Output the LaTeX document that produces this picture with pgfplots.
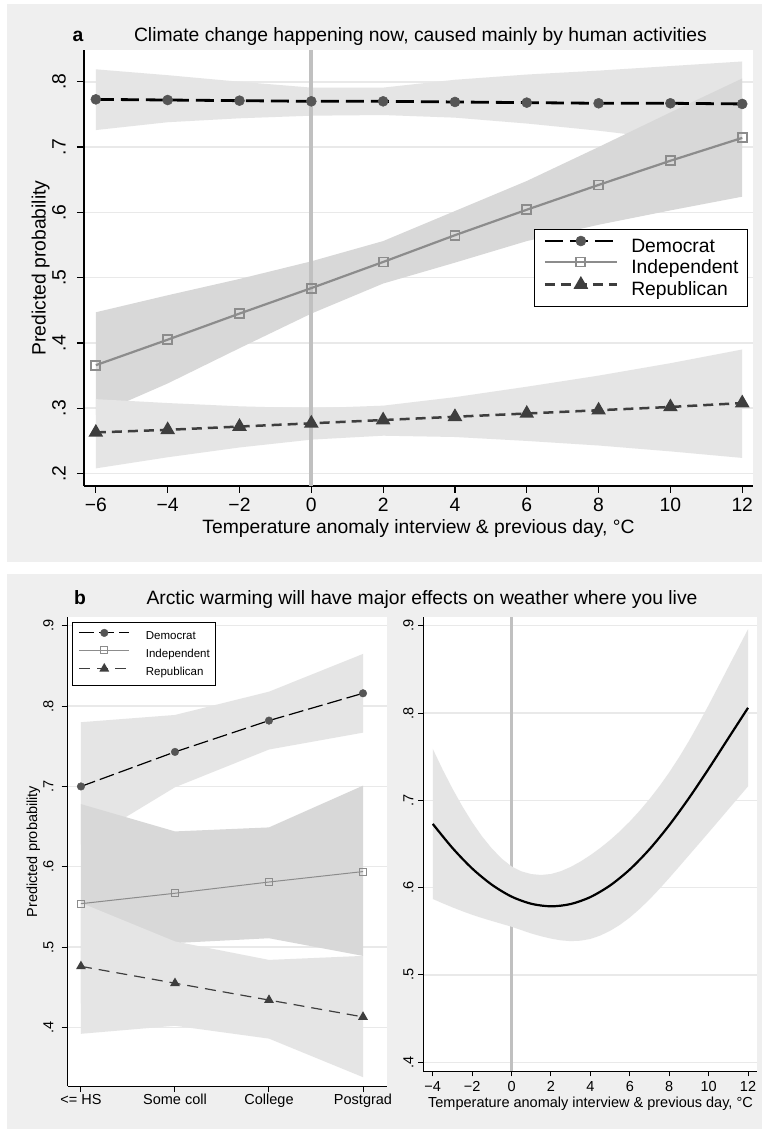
\documentclass[border=0pt]{standalone}
\usepackage{fontspec}
\setmainfont{Liberation Sans}
\usepackage{pgfplots}
\pgfplotsset{compat=1.18}
\definecolor{panelbg}{RGB}{239,239,239}
\definecolor{gridc}{RGB}{233,233,233}
\definecolor{bandL}{RGB}{229,229,229}
\definecolor{bandD}{RGB}{216,216,216}
\definecolor{zline}{RGB}{192,192,192}
\definecolor{demmark}{RGB}{85,85,85}
\definecolor{indc}{RGB}{140,140,140}
\definecolor{repc}{RGB}{62,62,62}
\newcommand\fa{\fontsize{19.3bp}{23bp}\selectfont}
\newcommand\fb{\fontsize{14.5bp}{17bp}\selectfont}
\newcommand\fl{\fontsize{11.5bp}{13bp}\selectfont}
\begin{document}
\begin{tikzpicture}
\useasboundingbox (0,0) rectangle (762bp,1129bp);
\fill[white] (0,0) rectangle (762bp,1129bp);
\fill[panelbg] (7bp,567bp) rectangle (762bp,1125bp);
\fill[panelbg] (7bp,0bp) rectangle (762bp,555bp);
\node[anchor=base,font=\fa\bfseries] at (78bp,1087.3bp) {a};
\node[anchor=base,font=\fa] at (420.5bp,1087.3bp) {Climate change happening now, caused mainly by human activities};
\node[anchor=base,font=\fa\bfseries] at (80bp,524bp) {b};
\node[anchor=base,font=\fa] at (422bp,524bp) {Arctic warming will have major effects on weather where you live};

% ---------------- panel a
\begin{axis}[
  at={(84bp,643bp)}, anchor=south west,
  scale only axis, width=669bp, height=436bp,
  xmin=-6.33, xmax=12.3, ymin=0.181, ymax=0.8486,
  axis x line*=bottom, axis y line*=left,
  axis line style={line width=1.2bp, black},
  axis background/.style={fill=white},
  xtick={-6,-4,-2,0,2,4,6,8,10,12},
  xticklabels={−6,−4,−2,0,2,4,6,8,10,12},
  ytick={0.2,0.3,0.4,0.5,0.6,0.7,0.8},
  yticklabels={.2,.3,.4,.5,.6,.7,.8},
  tick align=outside, major tick length=7bp,
  tick style={line width=1.2bp, black},
  ymajorgrids, major grid style={gridc, line width=1.6bp},
  ticklabel style={font=\fa, inner sep=0pt},
  xticklabel style={anchor=base}, xticklabel shift=18.7bp,
  yticklabel style={rotate=90, anchor=base}, yticklabel shift=11.4bp,
  xlabel={Temperature anomaly interview \& previous day, °C},
  xlabel style={at={(axis description cs:0.5,0)}, anchor=base, yshift=-47.3bp, font=\fa, inner sep=0pt},
  ylabel={Predicted probability},
  ylabel style={at={(axis description cs:-0.0575,0.5)}, anchor=base, font=\fa, inner sep=0pt},
  legend style={at={(0.6726,0.5894)}, anchor=north west, draw=black, line width=1bp, fill=white,
    font=\fa, inner xsep=9bp, inner ysep=6.5bp, row sep=1.5bp, column sep=13bp,
    nodes={inner sep=0pt, text height=14bp, text depth=4bp}},
  legend cell align=left,
  legend image code/.code={\draw[mark repeat=2,mark phase=2,#1] plot coordinates {(0bp,6bp) (36bp,6bp) (72bp,6bp)};},
]
\addplot[fill=bandL, draw=none, forget plot] coordinates {(-6,.819) (-4,.810) (-2,.800) (0,.791) (2,.791) (4,.803) (6,.811) (8,.817) (10,.824) (12,.831) (12,.698) (10,.712) (8,.725) (6,.736) (4,.745) (2,.749) (0,.748) (-2,.744) (-4,.738) (-6,.726)} --cycle;
\addplot[fill=bandD, draw=none, forget plot] coordinates {(-6,.447) (-4,.473) (-2,.498) (0,.525) (2,.556) (4,.602) (6,.648) (8,.700) (10,.753) (12,.805) (12,.624) (10,.603) (8,.581) (6,.556) (4,.523) (2,.491) (0,.445) (-2,.392) (-4,.338) (-6,.290)} --cycle;
\addplot[fill=bandL, draw=none, forget plot] coordinates {(-6,.314) (-4,.308) (-2,.303) (0,.300) (2,.304) (4,.317) (6,.333) (8,.350) (10,.369) (12,.390) (12,.224) (10,.234) (8,.243) (6,.250) (4,.256) (2,.258) (0,.252) (-2,.240) (-4,.225) (-6,.208)} --cycle;
\addplot[zline, line width=4bp, forget plot] coordinates {(0,0.181) (0,0.8486)};
\addplot[black, line width=2.8bp, dash pattern=on 18bp off 7bp, mark=*, mark size=5bp,
  mark options={solid, fill=demmark, draw=demmark, line width=0.5bp}]
  coordinates {(-6,.773) (-4,.772) (-2,.771) (0,.770) (2,.770) (4,.769) (6,.768) (8,.767) (10,.767) (12,.766)};
\addlegendentry{Democrat}
\addplot[indc, line width=2.2bp, mark=square, mark size=4.5bp, mark options={solid, line width=1.8bp}]
  coordinates {(-6,.366) (-4,.405) (-2,.445) (0,.484) (2,.524) (4,.565) (6,.604) (8,.642) (10,.679) (12,.714)};
\addlegendentry{Independent}
\addplot[repc, line width=2.5bp, dash pattern=on 10bp off 6bp, mark=triangle*, mark size=6bp, mark options={solid}]
  coordinates {(-6,.263) (-4,.267) (-2,.272) (0,.277) (2,.282) (4,.287) (6,.292) (8,.297) (10,.302) (12,.308)};
\addlegendentry{Republican}
\end{axis}

% ---------------- panel b left
\begin{axis}[
  at={(67.7bp,43bp)}, anchor=south west,
  scale only axis, width=319bp, height=469bp,
  xmin=-0.141, xmax=3.252, ymin=0.327, ymax=0.911,
  axis x line*=bottom, axis y line*=left,
  axis line style={line width=1bp, black},
  axis background/.style={fill=white},
  xtick={0,1,2,3},
  xticklabels={<= HS,Some coll,College,Postgrad},
  ytick={0.4,0.5,0.6,0.7,0.8,0.9},
  yticklabels={.4,.5,.6,.7,.8,.9},
  tick align=outside, major tick length=6bp,
  tick style={line width=1bp, black},
  ymajorgrids, major grid style={gridc, line width=1.3bp},
  ticklabel style={font=\fb, inner sep=0pt},
  xticklabel style={anchor=base}, xticklabel shift=12.5bp,
  yticklabel style={rotate=90, anchor=base}, yticklabel shift=8.4bp,
  ylabel={Predicted probability},
  ylabel style={at={(axis description cs:-0.0956,0.5)}, anchor=base, font=\fb, inner sep=0pt},
  legend style={at={(0.0144,0.99)}, anchor=north west, draw=black, line width=0.8bp, fill=white,
    font=\fl, inner xsep=6bp, inner ysep=7bp, row sep=4.4bp, column sep=16bp,
    nodes={inner sep=0pt, text height=8.5bp, text depth=2.5bp}},
  legend cell align=left,
  legend image code/.code={\draw[mark repeat=2,mark phase=2,#1] plot coordinates {(0bp,4bp) (25bp,4bp) (50bp,4bp)};},
]
\addplot[fill=bandL, draw=none, forget plot] coordinates {(0,.780) (1,.789) (2,.818) (3,.865) (3,.767) (2,.746) (1,.699) (0,.628)} --cycle;
\addplot[fill=bandD, draw=none, forget plot] coordinates {(0,.678) (1,.644) (2,.649) (3,.701) (3,.489) (2,.511) (1,.505) (0,.430)} --cycle;
\addplot[fill=bandL, draw=none, forget plot] coordinates {(0,.555) (1,.507) (2,.484) (3,.489) (3,.338) (2,.386) (1,.402) (0,.392)} --cycle;
\addplot[black, line width=1.2bp, dash pattern=on 15bp off 5bp, mark=*, mark size=3.8bp,
  mark options={solid, fill=demmark, draw=demmark, line width=0.4bp}]
  coordinates {(0,.700) (1,.743) (2,.782) (3,.816)};
\addlegendentry{Democrat}
\addplot[indc, line width=1bp, mark=square, mark size=3.5bp, mark options={solid, line width=1bp}]
  coordinates {(0,.554) (1,.567) (2,.581) (3,.594)};
\addlegendentry{Independent}
\addplot[repc, line width=1.2bp, dash pattern=on 11bp off 7bp, mark=triangle*, mark size=4.5bp, mark options={solid}]
  coordinates {(0,.476) (1,.455) (2,.434) (3,.413)};
\addlegendentry{Republican}
\end{axis}

% ---------------- panel b right
\begin{axis}[
  at={(423.3bp,57.7bp)}, anchor=south west,
  scale only axis, width=333.4bp, height=454.3bp,
  xmin=-4.48, xmax=12.44, ymin=0.3896, ymax=0.910,
  axis x line*=bottom, axis y line*=left,
  axis line style={line width=1bp, black},
  axis background/.style={fill=white},
  xtick={-4,-2,0,2,4,6,8,10,12},
  xticklabels={−4,−2,0,2,4,6,8,10,12},
  ytick={0.4,0.5,0.6,0.7,0.8,0.9},
  yticklabels={.4,.5,.6,.7,.8,.9},
  tick align=outside, major tick length=5bp,
  tick style={line width=1bp, black},
  ymajorgrids, major grid style={gridc, line width=1.3bp},
  ticklabel style={font=\fb, inner sep=0pt},
  xticklabel style={anchor=base}, xticklabel shift=15.2bp,
  yticklabel style={rotate=90, anchor=base}, yticklabel shift=5bp,
  xlabel={Temperature anomaly interview \& previous day, °C},
  xlabel style={at={(axis description cs:0.5015,-0.0795)}, anchor=base, font=\fb, inner sep=0pt},
]
\addplot[zline, line width=3bp, forget plot] coordinates {(0,0.3896) (0,0.910)};
\addplot[fill=bandL, draw=none, forget plot] coordinates {(-4,.759) (-3.5,.7353) (-3,.7134) (-2.5,.6932) (-2,.6749) (-1.5,.6587) (-1,.6448) (-0.5,.6332) (0,.6242) (0.5,.6186) (1,.6155) (1.5,.6145) (2,.6156) (2.5,.6188) (3,.6237) (3.5,.6299) (4,.6372) (4.5,.6454) (5,.6545) (5.5,.6646) (6,.6758) (6.5,.6881) (7,.7015) (7.5,.7161) (8,.732) (8.5,.7493) (9,.768) (9.5,.7881) (10,.8091) (10.5,.8307) (11,.8526) (11.5,.8743) (12,.896)
 (12,.716) (11.5,.7028) (11,.6896) (10.5,.6763) (10,.6631) (9.5,.6500) (9,.637) (8.5,.6239) (8,.611) (7.5,.5984) (7,.5865) (6.5,.5756) (6,.5658) (5.5,.5574) (5,.5505) (4.5,.5451) (4,.5412) (3.5,.5392) (3,.5387) (2.5,.5396) (2,.5416) (1.5,.5443) (1,.5475) (0.5,.5513) (0,.5552) (-0.5,.5585) (-1,.5618) (-1.5,.5652) (-2,.5689) (-2.5,.5730) (-3,.5774) (-3.5,.5821) (-4,.587)} --cycle;
\addplot[black, line width=2.2bp, smooth] coordinates {(-4,.673) (-3,.6454) (-2,.6219) (-1,.6033) (0,.5897) (1,.5815) (2,.5786) (3,.5812) (4,.5892) (5,.6025) (6,.6208) (7,.6440) (8,.6715) (9,.7025) (10,.7361) (11,.7711) (12,.806)};
\end{axis}
\end{tikzpicture}
\end{document}
